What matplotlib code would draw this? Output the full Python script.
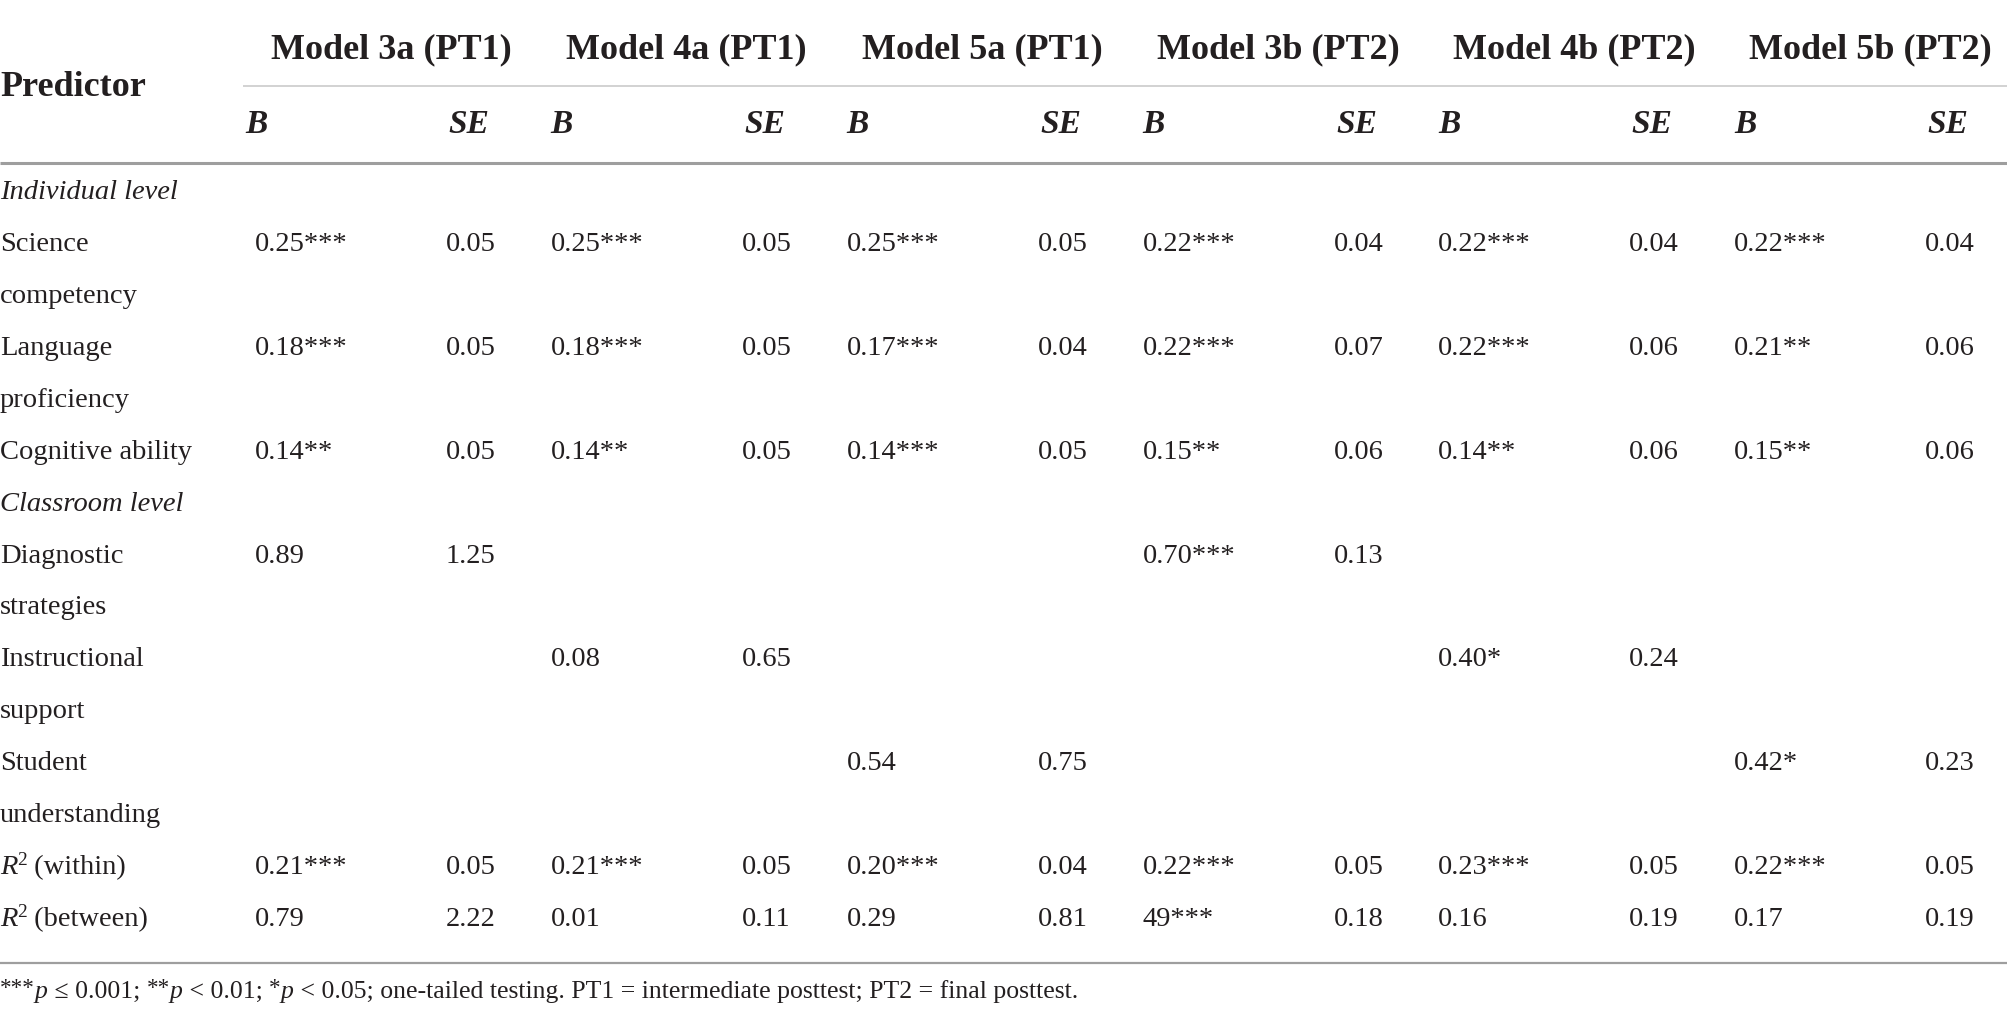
import matplotlib
matplotlib.use("Agg")
import matplotlib.pyplot as plt

plt.rcParams['font.family'] = ['Liberation Serif', 'DejaVu Serif']

# table content
models = ["Model 3a (PT1)", "Model 4a (PT1)", "Model 5a (PT1)",
          "Model 3b (PT2)", "Model 4b (PT2)", "Model 5b (PT2)"]

predictors = ["Science\ncompetency", "Language\nproficiency", "Cognitive ability",
              "Diagnostic\nstrategies", "Instructional\nsupport", "Student\nunderstanding",
              "R2 (within)", "R2 (between)"]
# section headings, keyed by the predictor index they come before
sections = {0: "Individual level", 3: "Classroom level"}

m3a_b = ["0.25***", "0.18***", "0.14**", "0.89", "", "", "0.21***", "0.79"]
m3a_se = ["0.05", "0.05", "0.05", "1.25", "", "", "0.05", "2.22"]
m4a_b = ["0.25***", "0.18***", "0.14**", "", "0.08", "", "0.21***", "0.01"]
m4a_se = ["0.05", "0.05", "0.05", "", "0.65", "", "0.05", "0.11"]
m5a_b = ["0.25***", "0.17***", "0.14***", "", "", "0.54", "0.20***", "0.29"]
m5a_se = ["0.05", "0.04", "0.05", "", "", "0.75", "0.04", "0.81"]
m3b_b = ["0.22***", "0.22***", "0.15**", "0.70***", "", "", "0.22***", "49***"]
m3b_se = ["0.04", "0.07", "0.06", "0.13", "", "", "0.05", "0.18"]
m4b_b = ["0.22***", "0.22***", "0.14**", "", "0.40*", "", "0.23***", "0.16"]
m4b_se = ["0.04", "0.06", "0.06", "", "0.24", "", "0.05", "0.19"]
m5b_b = ["0.22***", "0.21**", "0.15**", "", "", "0.42*", "0.22***", "0.17"]
m5b_se = ["0.04", "0.06", "0.06", "", "", "0.23", "0.05", "0.19"]

b_cols = [m3a_b, m4a_b, m5a_b, m3b_b, m4b_b, m5b_b]
se_cols = [m3a_se, m4a_se, m5a_se, m3b_se, m4b_se, m5b_se]

footnote = [("***", "star"), ("p", "it"), (" \u2264 0.001; ", "rm"),
            ("**", "star"), ("p", "it"), (" < 0.01; ", "rm"),
            ("*", "star"), ("p", "it"),
            (" < 0.05; one-tailed testing. PT1 = intermediate posttest; PT2 = final posttest.", "rm")]

# layout (pixels)
W, H = 2008, 1022
ink = "#231f20"
col0 = 255
step = 295.8
se_off = 191
row0 = 199
row_step = 51.93

fig = plt.figure(figsize=(W / 100, H / 100), dpi=100)
ax = fig.add_axes([0, 0, 1, 1])
ax.set_xlim(0, W)
ax.set_ylim(H, 0)
ax.axis("off")
renderer = fig.canvas.get_renderer()


def runs(x, y, parts, size):
    # draw text pieces one after another on a common baseline
    for txt, kind in parts:
        if kind == "sup":
            t = ax.text(x, y - size * 0.45, txt, fontsize=size * 0.68, color=ink, va="baseline")
        elif kind == "star":
            t = ax.text(x, y - size * 0.2, txt, fontsize=size * 0.9, color=ink, va="baseline")
        elif kind == "it":
            t = ax.text(x, y, txt, fontsize=size, style="italic", color=ink, va="baseline")
        else:
            t = ax.text(x, y, txt, fontsize=size, color=ink, va="baseline")
        x += t.get_window_extent(renderer).width
    return x


# header
ax.text(0, 96, "Predictor", fontsize=26, fontweight="bold", color=ink, va="baseline")
for i, m in enumerate(models):
    bx = col0 + i * step
    ax.text(bx + 136, 58, m, fontsize=26, fontweight="bold", color=ink,
            ha="center", va="baseline")
    hx = bx - 10 if i == 0 else bx
    ax.text(hx, 133, "B", fontsize=24, fontweight="bold", style="italic", color=ink, va="baseline")
    ax.text(bx + se_off + 23, 133, "SE", fontsize=24, fontweight="bold", style="italic",
            color=ink, ha="center", va="baseline")

ax.hlines(86, 243, W, color="#cfcfcf", lw=1.3)
ax.hlines(163.5, 0, W, color="#9e9e9e", lw=2.2)

# body
line = 0
for k, label in enumerate(predictors):
    if k in sections:
        ax.text(0, row0 + line * row_step, sections[k], fontsize=20.5, style="italic",
                color=ink, va="baseline")
        line += 1
    y = row0 + line * row_step
    if label.startswith("R2"):
        runs(0, y, [("R", "it"), ("2", "sup"), (label[2:], "rm")], 20.5)
    else:
        for j, part in enumerate(label.split("\n")):
            ax.text(0, y + j * row_step, part, fontsize=20.5, color=ink, va="baseline")
    for i in range(len(models)):
        bx = col0 + i * step
        ax.text(bx, y, b_cols[i][k], fontsize=20.5, color=ink, va="baseline")
        ax.text(bx + se_off, y, se_cols[i][k], fontsize=20.5, color=ink, va="baseline")
    line += len(label.split("\n"))

ax.hlines(963, 0, W, color="#9e9e9e", lw=1.6)

runs(0, 998, footnote, 18.5)

fig.savefig("out.png", dpi=100)
